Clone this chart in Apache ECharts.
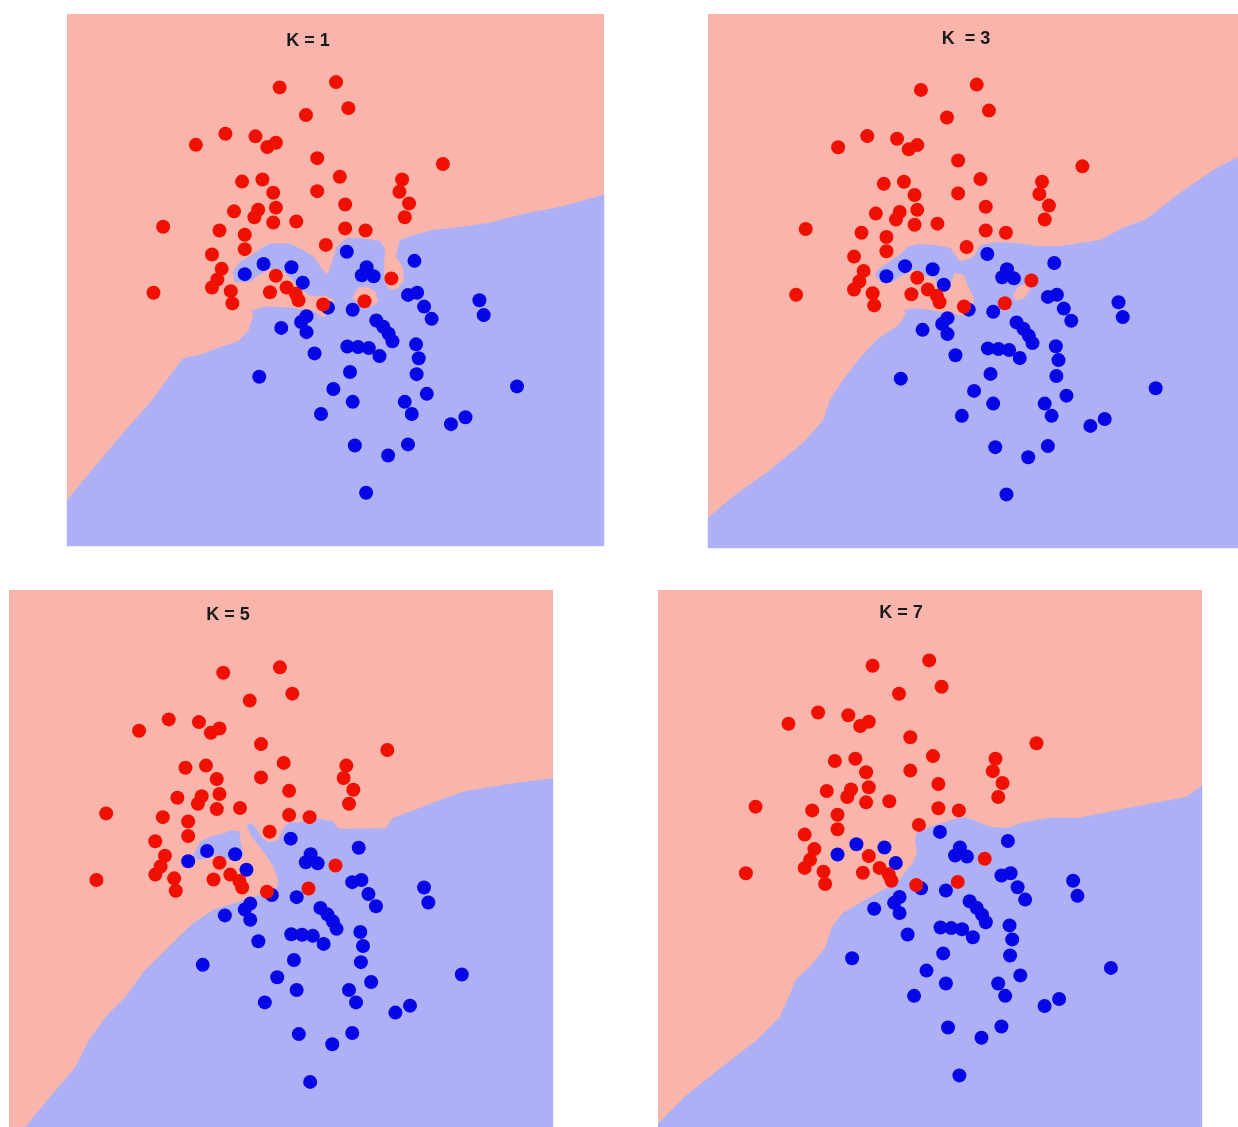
<!DOCTYPE html>
<html>
<head>
<meta charset="utf-8">
<script src="https://cdn.jsdelivr.net/npm/echarts@6/dist/echarts.min.js"></script>
<style>
html,body{margin:0;padding:0;background:#ffffff;}
#chart{width:1238px;height:1127px;}
</style>
</head>
<body>
<div id="chart"></div>
<script>
// ---------------- data ----------------
const panelTitles = ['K = 1', 'K  = 3', 'K = 5', 'K = 7'];

// class "red" training points (feature 1, feature 2)
const redPoints = [
  [39.6,86.2],[50.1,87.2],[44.5,81.0],[52.4,82.3],[29.5,77.5],[24.0,75.4],[35.1,77.0],[38.9,75.8],
  [37.3,75.0],[46.6,72.9],[70.0,71.8],[32.6,68.5],[36.4,68.9],[50.8,69.4],[62.4,68.9],[38.4,66.4],
  [46.6,66.7],[61.9,66.6],[63.7,64.4],[51.8,64.2],[62.9,61.8],[31.1,62.9],[35.6,63.2],[34.9,61.8],
  [38.9,63.6],[38.4,60.8],[42.7,61.0],[17.9,60.0],[28.4,59.3],[33.1,58.5],[51.8,59.7],[55.6,59.3],
  [33.1,55.8],[27.0,54.8],[48.2,56.6],[28.8,52.1],[28.0,50.1],[27.0,48.6],[16.1,47.6],[30.5,47.9],
  [30.8,45.6],[38.9,50.8],[37.8,47.7],[40.9,48.6],[42.6,47.4],[43.1,46.2],[47.7,45.4],[55.4,46.0],
  [60.4,50.3]
];

// class "blue" training points
const bluePoints = [
  [52.1,55.3],[64.7,53.6],[36.6,53.0],[33.1,51.1],[41.8,52.4],[55.8,52.4],[54.9,50.9],[57.1,50.7],
  [43.9,49.5],[63.5,47.2],[65.2,47.6],[66.5,45.0],[67.9,42.7],[76.8,46.2],[77.6,43.4],[48.6,44.8],
  [53.2,44.4],[44.6,43.2],[43.6,42.1],[44.6,40.2],[39.9,41.0],[57.6,42.4],[58.9,41.2],[59.9,39.9],
  [60.6,38.5],[52.2,37.5],[54.2,37.4],[56.2,37.2],[58.2,35.7],[65.0,37.9],[65.5,35.3],[65.1,32.3],
  [46.1,36.2],[52.7,32.7],[35.8,31.8],[83.8,30.0],[49.6,29.5],[53.2,27.1],[62.9,27.1],[64.2,24.8],
  [67.0,28.6],[47.3,24.8],[71.5,22.9],[74.2,24.2],[53.6,18.9],[63.5,19.1],[59.8,17.0],[55.7,10.0]
];

// visible feature ranges of each panel
const xRanges = [[0,100],[-0.5,99.3],[-0.1,100.7],[-0.2,100.7]];
const yRanges = [[0,100],[-0.1,100.5],[1.6,101.6],[0.4,100.3]];

// decision regions (blue class region outlines)
const blueRegionK1 = [[0,0],[0,8.6],[6.7,16.7],[10.6,21.4],[15.3,26.7],[18.6,31.2],[21.6,35.2],[25.3,36.1],
  [29.2,37.6],[32.0,38.5],[33.9,40.6],[34.8,43.6],[33.1,46.2],[31.5,48.5],[30.9,51.5],[32.2,53.4],
  [34.5,54.7],[36.3,56.0],[37.8,56.8],[41.5,56.8],[44.1,55.5],[46.0,54.3],[47.3,52.3],[48.4,50.8],
  [49.3,53.2],[50.3,56.2],[52.1,57.9],[55.9,57.7],[58.3,57.3],[59.2,55.8],[59.0,53.4],[59.0,50.0],
  [60.1,48.1],[61.6,48.3],[62.8,50.0],[62.6,52.3],[61.3,54.5],[62.0,57.5],[65.2,58.6],[68.2,59.4],
  [72.3,59.8],[78.6,60.7],[85.1,62.4],[91.8,63.7],[100,66.0],[100,0]];
const redPocketsK1 = [
  [[29.2,49.8],[31.7,49.6],[34.1,49.6],[35.6,50.8],[37.8,52.1],[40.2,51.7],[42.1,49.8],[43.4,48.3],
   [45.3,47.0],[48.2,47.0],[49.7,46.2],[49.0,44.0],[47.7,43.0],[46.0,44.2],[44.7,44.5],[41.0,44.9],
   [37.2,45.1],[34.8,44.4],[32.2,45.1],[29.2,46.2]],
  [[53.1,46.6],[54.2,48.5],[56.0,48.7],[57.5,47.7],[57.9,45.9],[56.6,45.1],[54.7,45.5]]
];

const blueRegionK3 = [[-0.5,-0.1],[-0.5,5.6],[4.4,9.7],[11.0,14.4],[17.4,19.7],[21.2,23.9],[22.5,27.8],
  [25.1,31.8],[28.3,35.9],[31.5,39.3],[35.5,41.9],[36.8,44.0],[30.9,51.5],[31.9,52.6],[33.8,53.9],
  [35.7,55.1],[37.2,56.7],[39.4,57.1],[42.6,56.9],[45.1,56.4],[46.0,55.1],[46.9,53.9],[48.5,54.2],
  [49.8,55.1],[50.7,56.9],[53.9,57.5],[57.6,57.3],[62.0,56.7],[65.2,56.7],[68.3,57.1],[73.3,57.9],
  [77.4,60.1],[82.0,61.8],[88.4,66.8],[94.9,71.2],[99.3,73.5],[99.3,-0.1]];
const redPocketsK3 = [
  [[30.0,49.1],[31.9,49.8],[34.4,50.1],[36.3,51.3],[38.2,52.3],[40.0,51.3],[42.2,50.7],[42.6,49.1],
   [44.4,48.2],[45.4,50.1],[46.0,51.7],[47.6,51.3],[48.5,49.1],[49.5,47.0],[49.5,44.4],[48.5,43.5],
   [46.9,43.8],[45.1,44.4],[43.2,44.4],[40.7,44.9],[38.2,45.1],[35.7,44.6],[33.2,43.8],[30.6,43.8]],
  [[56.9,47.4],[57.9,49.1],[59.6,49.7],[60.1,48.5],[59.0,47.0],[57.5,46.6]]
];

const blueRegionK5 = [[2.9,1.6],[8.2,8.0],[12.1,12.6],[14.8,17.9],[18.1,22.4],[21.4,25.7],[24.7,30.3],
  [28.0,33.6],[31.3,36.9],[34.0,39.5],[37.8,42.0],[41.5,43.2],[44.6,44.2],[46.4,44.8],[48.0,44.3],
  [49.5,45.7],[49.8,47.6],[48.9,50.1],[47.6,52.2],[46.2,54.0],[44.8,55.8],[44.0,57.7],[44.8,58.2],
  [45.8,57.0],[46.6,55.6],[48.0,54.6],[49.8,55.0],[50.6,57.0],[51.8,58.4],[53.2,58.2],[56.5,59.1],
  [59.8,58.5],[61.1,57.1],[69.7,57.2],[71.0,59.1],[76.3,61.1],[79.6,62.4],[84.3,64.1],[94.2,65.7],
  [100.7,66.5],[100.7,1.6]];
const blueIslandK5 = [[33.9,51.9],[35.3,54.7],[37.5,55.7],[39.9,56.3],[40.9,56.8],[42.6,56.6],[42.8,54.4],
  [43.4,52.2],[42.2,51.3],[39.9,51.6],[38.4,52.2],[36.5,51.8],[35.3,51.3]];

const blueRegionK7 = [[-0.2,1.0],[5.0,6.2],[11.5,11.4],[18.2,16.6],[22.3,20.7],[24.1,24.6],[25.4,27.8],
  [28.2,30.4],[30.8,33.7],[32.1,37.6],[34.1,40.2],[36.7,41.7],[39.2,43.2],[41.6,44.5],[44.2,45.8],
  [45.6,47.7],[47.1,49.5],[47.9,51.4],[47.5,53.8],[47.9,55.3],[50.3,56.2],[53.4,57.2],[56.4,58.1],
  [59.0,57.2],[61.4,56.2],[64.6,56.0],[67.5,57.0],[72.5,57.9],[77.9,57.9],[84.4,59.2],[91.1,60.5],
  [97.8,61.8],[100.7,63.9],[100.7,0.4],[-0.2,0.4]];

// ---------------- styling / layout ----------------
const PINK = '#f9b5ab';
const LAVENDER = '#adb0f5';
const RED = '#f01000';
const BLUE = '#0606e6';

const panels = [
  { box: {left: 67,  top: 14,  width: 537, height: 532}, titlePos: [308, 41],
    layers: [[blueRegionK1, LAVENDER]].concat(redPocketsK1.map(p => [p, PINK])) },
  { box: {left: 708, top: 14,  width: 530, height: 534}, titlePos: [966, 39],
    layers: [[blueRegionK3, LAVENDER]].concat(redPocketsK3.map(p => [p, PINK])) },
  { box: {left: 9,   top: 590, width: 544, height: 537}, titlePos: [228, 615],
    layers: [[blueRegionK5, LAVENDER], [blueIslandK5, LAVENDER]] },
  { box: {left: 658, top: 590, width: 544, height: 537}, titlePos: [901, 613],
    layers: [[blueRegionK7, LAVENDER]] }
];

const grid = [], xAxis = [], yAxis = [], series = [], graphic = [];

panels.forEach((p, i) => {
  grid.push(Object.assign({show: true, backgroundColor: PINK, borderWidth: 0, containLabel: false}, p.box));
  xAxis.push({type: 'value', gridIndex: i, min: xRanges[i][0], max: xRanges[i][1], show: false});
  yAxis.push({type: 'value', gridIndex: i, min: yRanges[i][0], max: yRanges[i][1], show: false});

  p.layers.forEach(([poly, color]) => {
    series.push({
      type: 'custom', xAxisIndex: i, yAxisIndex: i, silent: true, animation: false, z: 1,
      data: poly,
      renderItem: function (params, api) {
        if (params.dataIndex !== 0) return null;
        return {
          type: 'polygon',
          shape: {points: poly.map(pt => api.coord(pt))},
          style: {fill: color, stroke: color, lineWidth: 0.5}
        };
      }
    });
  });

  series.push({
    type: 'scatter', xAxisIndex: i, yAxisIndex: i, data: bluePoints, symbolSize: 14, z: 3,
    itemStyle: {color: BLUE, opacity: 1}, silent: true, animation: false
  });
  series.push({
    type: 'scatter', xAxisIndex: i, yAxisIndex: i, data: redPoints, symbolSize: 14, z: 4,
    itemStyle: {color: RED, opacity: 1}, silent: true, animation: false
  });

  graphic.push({
    type: 'text', x: p.titlePos[0], y: p.titlePos[1], z: 100,
    style: {
      text: panelTitles[i], textAlign: 'center', textVerticalAlign: 'middle',
      font: 'bold 18px "Liberation Sans", Arial, sans-serif', fill: '#1b1b1b'
    }
  });
});

const chart = echarts.init(document.getElementById('chart'), null, {renderer: 'canvas'});
chart.setOption({
  backgroundColor: '#ffffff',
  animation: false,
  grid: grid,
  xAxis: xAxis,
  yAxis: yAxis,
  series: series,
  graphic: graphic
});
</script>
</body>
</html>
